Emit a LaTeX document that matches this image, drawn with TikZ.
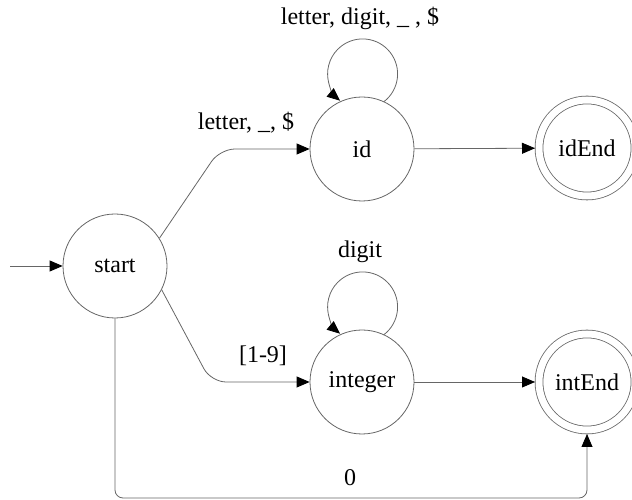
\documentclass[tikz,border=0pt]{standalone}
\usepackage{fontspec}
\setmainfont{Liberation Serif}
\usetikzlibrary{positioning}
\usetikzlibrary{arrows.meta}
\tikzset{ed/.style={inner sep=2pt,font=\fontsize{24}{28}\selectfont}}
\tikzset{>={Triangle[length=13pt,width=11pt,color=black]}}
\tikzset{tr/.style={->,draw=black!60}}
\tikzset{vert/.style={draw=black!60,circle,minimum size=104pt,inner sep=0pt,fill=white,font=\fontsize{24}{28}\selectfont}}
\tikzset{fin/.style={vert,minimum size=96pt,double=white,double distance=7pt,outer sep=4pt}}

\begin{document}
\begin{tikzpicture}[x=1pt,y=1pt,line width=0.8pt]
    \useasboundingbox (0,0) rectangle (632,500);

    \node[vert] (start) at (115,234) {start};
    \node[vert] (id) at (362,351) {id};
    \node[vert] (integer) at (362,118) {integer};
    \node[fin] (idEnd) at (587,352) {idEnd};
    \node[fin] (intEnd) at (587,118) {intEnd};

    \coordinate (entry) at (10,234);
    \coordinate (up) at (220,351);
    \coordinate (down) at (211,118);
    \coordinate (botL) at (115,2);
    \coordinate (botR) at (587,2);

    \draw[tr] (entry) -- (start);
    \draw[tr, rounded corners=15pt] (start.32) -- (up) -- (id);
    \draw[tr, rounded corners=15pt] (start.-27) -- (down) -- (integer);
    \draw[tr] (id) -- (idEnd);
    \draw[tr] (integer) -- (intEnd);
    \draw[tr, rounded corners=8pt] (start) -- (botL) -- (botR) -- (intEnd);

    % self loops
    \draw[tr] (id.65) arc[start angle=-52, end angle=230, radius=35];
    \draw[tr] (integer.65) arc[start angle=-52, end angle=230, radius=35];

    \node[ed] (idLoop) at (360,482) {letter, digit, \_ , \$};
    \node[ed] (toId) at (246,377) {letter, \_, \$};
    \node[ed] (intLoop) at (360,248) {digit};
    \node[ed] (toInt) at (263,144) {[1-9]};
    \node[ed] (zero) at (350,22) {0};
\end{tikzpicture}
\end{document}
